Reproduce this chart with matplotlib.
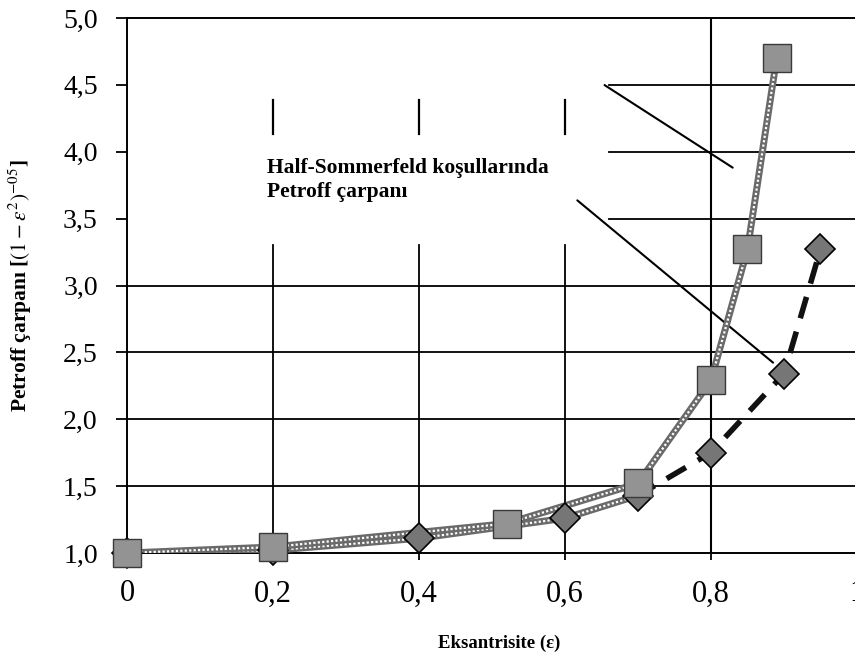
import numpy as np
import matplotlib
matplotlib.use("Agg")
import matplotlib.pyplot as plt

plt.rcParams['font.family'] = ['Liberation Serif', 'DejaVu Serif']
plt.rcParams['mathtext.fontset'] = 'stix'

# squares: measured curve
eps_kare = [0, 0.2, 0.52, 0.70, 0.80, 0.85, 0.89]
petroff_kare = [1.0, 1.045, 1.22, 1.52, 2.29, 3.27, 4.70]

# diamonds: Half-Sommerfeld Petroff factor
eps_elmas = [0, 0.2, 0.4, 0.6, 0.7, 0.8, 0.9, 0.95]
petroff_elmas = [1.0, 1.02, 1.11, 1.26, 1.43, 1.75, 2.34, 3.27]

xticks = [0, 0.2, 0.4, 0.6, 0.8, 1.0]
xtick_labels = ['0', '0,2', '0,4', '0,6', '0,8', '1']
yticks = [1.0, 1.5, 2.0, 2.5, 3.0, 3.5, 4.0, 4.5, 5.0]
ytick_labels = ['1,0', '1,5', '2,0', '2,5', '3,0', '3,5', '4,0', '4,5', '5,0']

fig = plt.figure(figsize=(8.55, 6.6), dpi=100)
ax = fig.add_axes([0.1485, 0.1621, 0.8538, 0.8106])
ax.set_xlim(0, 1)
ax.set_ylim(1, 5)

# grid (scanned original has gaps in upper-left part)
for x in [0.2, 0.4, 0.6]:
    ax.axvline(x, ymin=0, ymax=(3.30 - 1) / 4, color='black', lw=1.3, zorder=1)
    ax.axvline(x, ymin=(4.13 - 1) / 4, ymax=(4.39 - 1) / 4, color='black', lw=1.6, zorder=1)
ax.axvline(0.8, color='black', lw=1.5, zorder=1)
for y in [1.5, 2.0, 2.5, 3.0]:
    ax.axhline(y, color='black', lw=1.3, zorder=1)
for y in [3.5, 4.0, 4.5]:
    ax.axhline(y, xmin=0.66, xmax=1, color='black', lw=1.3, zorder=1)

# diamond series: textured gray at low eps, thick dashes after 0.7
k = 4
ax.plot(eps_elmas[:k + 1], petroff_elmas[:k + 1], color='#6a6a6a', lw=5, zorder=3)
ax.plot(eps_elmas[:k + 1], petroff_elmas[:k + 1], color='white', lw=1.6,
        linestyle=(0, (1, 1)), zorder=3)
ax.plot(eps_elmas[k:], petroff_elmas[k:], color='#111111', lw=4,
        linestyle=(0.5, (4, 2.5)), zorder=3)
ax.plot(eps_elmas, petroff_elmas, linestyle='none', marker='D', markersize=15,
        markerfacecolor='#767676', markeredgecolor='black', markeredgewidth=1.2,
        zorder=5, clip_on=False)

# square series: textured gray line
ax.plot(eps_kare, petroff_kare, color='#6a6a6a', lw=5, zorder=4)
ax.plot(eps_kare, petroff_kare, color='white', lw=1.6, linestyle=(0, (1, 1)), zorder=4)
ax.plot(eps_kare, petroff_kare, linestyle='none', marker='s', markersize=20,
        markerfacecolor='#939393', markeredgecolor='#3a3a3a', markeredgewidth=1,
        zorder=6, clip_on=False)

ax.text(0.192, 3.95, 'Half-Sommerfeld koşullarında\nPetroff çarpanı',
        fontsize=15.5, fontweight='bold', va='top', ha='left', linespacing=1.25)
ax.annotate('', xy=(0.833, 3.87), xytext=(0.651, 4.51),
            arrowprops=dict(arrowstyle='-', lw=1.5, color='black'))
ax.annotate('', xy=(0.888, 2.41), xytext=(0.614, 3.65),
            arrowprops=dict(arrowstyle='-', lw=1.5, color='black'))

ax.set_xticks(xticks)
ax.set_xticklabels(xtick_labels, fontsize=22)
ax.set_yticks(yticks)
ax.set_yticklabels(ytick_labels, fontsize=20)
ax.tick_params(axis='y', direction='out', length=8, width=1.3, pad=13)
ax.tick_params(axis='x', direction='out', length=5, width=1.3, pad=14)

ax.spines['right'].set_visible(False)
for s in ['left', 'bottom', 'top']:
    ax.spines[s].set_linewidth(1.4)

ax.set_xlabel('Eksantrisite (ε)', fontsize=13.5, fontweight='bold')
ax.xaxis.set_label_coords(0.51, -0.152)
ax.set_ylabel(r'Petroff çarpanı [$(1-\varepsilon^2)^{-05}$]', fontsize=15.5,
              fontweight='bold')
ax.yaxis.set_label_coords(-0.127, 0.50)

fig.savefig('out.png', dpi=100)
